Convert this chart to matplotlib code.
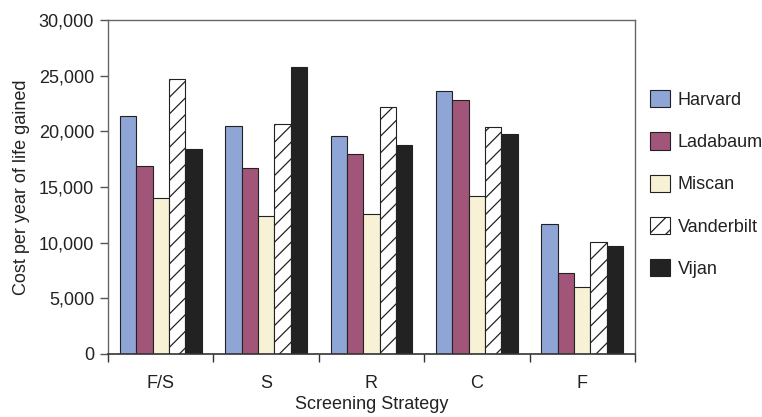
import matplotlib
matplotlib.use("Agg")
import matplotlib.pyplot as plt
import numpy as np
from matplotlib.ticker import FuncFormatter, FixedLocator, NullFormatter

plt.rcParams['font.family'] = ['Liberation Sans', 'DejaVu Sans']
plt.rcParams['hatch.linewidth'] = 0.9

categories = ["F/S", "S", "R", "C", "F"]
series_names = ["Harvard", "Ladabaum", "Miscan", "Vanderbilt", "Vijan"]
harvard = [21400, 20500, 19600, 23600, 11700]
ladabaum = [16900, 16700, 18000, 22800, 7300]
miscan = [14000, 12400, 12600, 14200, 6000]
vanderbilt = [24700, 20700, 22200, 20400, 10100]
vijan = [18400, 25800, 18800, 19800, 9700]
y_ticks = [0, 5000, 10000, 15000, 20000, 25000, 30000]

values = [harvard, ladabaum, miscan, vanderbilt, vijan]
colors = ["#8FA5D5", "#A15679", "#F7F2D6", "white", "#222222"]
hatches = [None, None, None, "//", None]

FS = 13

fig = plt.figure(figsize=(7.62, 4.17), dpi=100)
ax = fig.add_axes([108/762, 1-354/417, (635-108)/762, (354-20)/417])

x = np.arange(len(categories))
bw = 0.155
for i, (name, vals) in enumerate(zip(series_names, values)):
    offs = (i - 2) * bw
    ax.bar(x + offs, vals, width=bw, color=colors[i], edgecolor="#222222",
           linewidth=0.8, hatch=hatches[i], label=name, zorder=2)

ax.set_xlim(-0.5, len(categories) - 0.5)
ax.set_ylim(0, 30000)
ax.set_yticks(y_ticks)
ax.yaxis.set_major_formatter(FuncFormatter(lambda v, p: f"{int(v):,}"))

ax.set_xticks(x)
ax.set_xticklabels(categories)
ax.tick_params(axis='x', which='major', length=0, pad=15)
ax.xaxis.set_minor_locator(FixedLocator(np.arange(-0.5, len(categories), 1.0)))
ax.xaxis.set_minor_formatter(NullFormatter())
ax.tick_params(axis='x', which='minor', length=6, width=1, color="#333333", direction='out')
ax.tick_params(axis='y', length=6, width=1, color="#555555", direction='out', pad=4)
ax.tick_params(labelsize=FS, labelcolor="#222222")

for s in ['top', 'right', 'left']:
    ax.spines[s].set_color("#666666")
    ax.spines[s].set_linewidth(1)
ax.spines['bottom'].set_color("#333333")
ax.spines['bottom'].set_linewidth(1.2)

ax.set_ylabel("Cost per year of life gained", fontsize=FS, color="#222222", labelpad=6)
ax.set_xlabel("Screening Strategy", fontsize=FS, color="#222222", labelpad=3)

leg = fig.legend(loc='upper left', bbox_to_anchor=(650/762, 1-90/417), frameon=False,
                 fontsize=FS, handlelength=1.1, handleheight=1.1,
                 handletextpad=0.45, labelspacing=1.3, borderpad=0, borderaxespad=0)
for t in leg.get_texts():
    t.set_color("#222222")

fig.savefig("out.png", dpi=100)
